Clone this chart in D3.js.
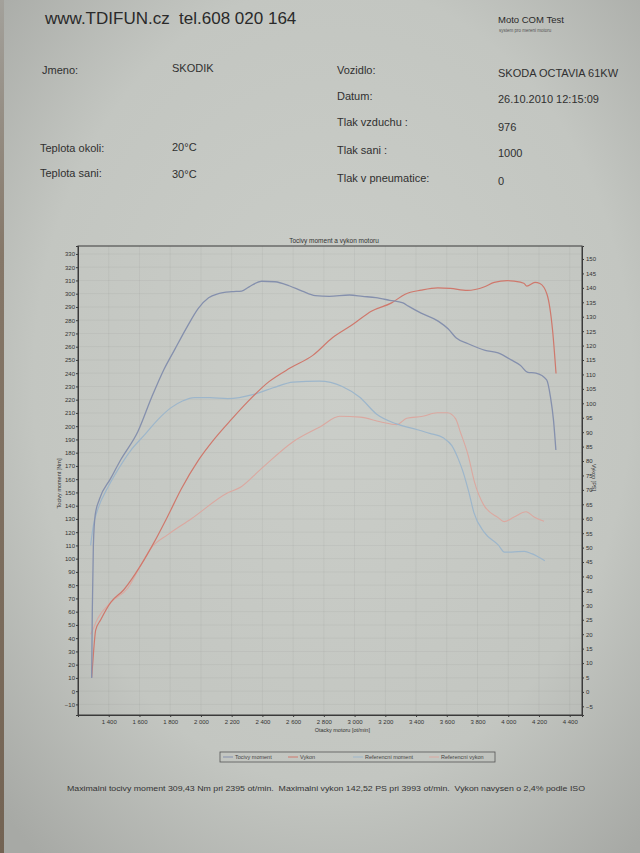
<!DOCTYPE html>
<html>
<head>
<meta charset="utf-8">
<script src="https://cdn.jsdelivr.net/npm/d3@7/dist/d3.min.js"></script>
<style>
  body { margin: 0; background: #c3c6c2; }
  svg { display: block; font-family: "Liberation Sans", Arial, sans-serif; }
</style>
</head>
<body>
<div id="chart"></div>
<script>
// measured torque (Nm, left axis)
var torqueRpm = [1289, 1293, 1300, 1312, 1340, 1410, 1480, 1590, 1680, 1760, 1830, 1910, 1983, 2050, 2114, 2200, 2265, 2311, 2395, 2482, 2574, 2659, 2744, 2836, 2967, 3052, 3138, 3229, 3315, 3350, 3433, 3544, 3610, 3662, 3739, 3850, 3934, 4019, 4078, 4127, 4180, 4250, 4275, 4295, 4310];
var torqueNm  = [10, 60, 110, 133, 145, 160, 175, 196, 222, 243, 258, 275, 289, 297, 300, 301.5, 302, 305, 309.4, 309, 306, 302, 298.6, 298, 299, 298, 297, 295, 293, 290.6, 285.3, 279.3, 273.3, 266.5, 262.2, 257.3, 255.3, 250, 246, 240.7, 240, 235, 222, 204, 182];

// measured power (PS, right axis)
var powerRpm = [1289, 1302, 1315, 1348, 1413, 1498, 1610, 1695, 1787, 1872, 1984, 2084, 2200, 2302, 2443, 2580, 2728, 2856, 2985, 3112, 3241, 3329, 3433, 3541, 3623, 3734, 3846, 3909, 3993, 4038, 4101, 4121, 4174, 4206, 4252, 4289, 4311];
var powerPs  = [5, 14.4, 21.4, 25, 31, 35.4, 44, 51.8, 61.2, 70.3, 80.3, 87.4, 94.5, 100.4, 107.5, 112.2, 116.6, 122.7, 127.2, 132, 134.8, 137.8, 139.2, 140, 139.8, 139.1, 140.4, 141.9, 142.5, 142.3, 141.6, 140.6, 141.9, 141.5, 137.8, 125, 110.3];

// reference torque (Nm, left axis)
var refTorqueRpm = [1282, 1300, 1328, 1400, 1459, 1545, 1630, 1720, 1806, 1880, 1957, 2060, 2175, 2344, 2470, 2600, 2770, 2920, 3034, 3144, 3273, 3404, 3489, 3577, 3633, 3674, 3708, 3744, 3776, 3843, 3936, 3975, 4021, 4106, 4152, 4238];
var refTorqueNm  = [110, 125, 137, 155, 167, 182, 193, 205, 214, 219, 221.6, 221.5, 220.8, 224, 229, 233.3, 234, 230, 221.8, 209, 201.7, 197.5, 194.6, 191.2, 185.3, 175.5, 164.8, 150, 135, 120, 110.2, 105, 105, 105.5, 103.8, 98.5];

// reference power (PS, right axis)
var refPowerRpm = [1282, 1300, 1315, 1413, 1525, 1610, 1675, 1787, 1938, 2175, 2260, 2388, 2600, 2777, 2903, 3036, 3166, 3275, 3339, 3443, 3538, 3604, 3657, 3690, 3739, 3781, 3840, 3934, 3973, 4038, 4116, 4168, 4233];
var refPowerPs  = [20, 22, 24, 31, 36, 44, 49.8, 54.6, 60, 69, 71, 77.1, 86.7, 91.9, 95.5, 95.2, 93.6, 92.6, 94.8, 95.5, 96.7, 96.7, 94.7, 89.8, 82, 72.6, 64.8, 60.4, 59, 60.6, 62.4, 60.6, 59.1];

var rpmTicks = d3.range(1400, 4401, 200);
var torqueTicks = d3.range(-10, 331, 10);
var powerTicks = d3.range(-5, 151, 5);
var legendLabels = ["Tocivy moment", "Vykon", "Referencni moment", "Referencni vykon"];
var seriesColors = ["#8590ad", "#cf786c", "#9db6cb", "#dba8a0"];

// header rows: [text, x, y]
var headerTexts = [
  ["Jmeno:", 42, 74], ["SKODIK", 172, 72],
  ["Vozidlo:", 337, 74], ["SKODA OCTAVIA 61KW", 498, 77],
  ["Datum:", 337, 100], ["26.10.2010 12:15:09", 498, 103],
  ["Tlak vzduchu :", 337, 126], ["976", 498, 131],
  ["Teplota okoli:", 40, 152], ["20°C", 172, 151],
  ["Tlak sani :", 337, 154], ["1000", 498, 157],
  ["Teplota sani:", 40, 177], ["30°C", 172, 178],
  ["Tlak v pneumatice:", 337, 182], ["0", 498, 185]
];

var W = 640, H = 853;
var margin = {top: 246, left: 78},
    width = 504,
    height = 469;

var svg = d3.select("#chart").append("svg")
    .attr("width", W)
    .attr("height", H);

// paper background
var defs = svg.append("defs");
var grad = defs.append("radialGradient").attr("id", "paper")
    .attr("cx", "52%").attr("cy", "45%").attr("r", "72%");
grad.append("stop").attr("offset", "0%").attr("stop-color", "#cbcec9");
grad.append("stop").attr("offset", "65%").attr("stop-color", "#c3c6c1");
grad.append("stop").attr("offset", "100%").attr("stop-color", "#a7a9a5");
svg.append("rect").attr("width", W).attr("height", H).attr("fill", "url(#paper)");

var edge = defs.append("linearGradient").attr("id", "edge")
    .attr("x1", 0).attr("x2", 0).attr("y1", 0).attr("y2", 1);
edge.append("stop").attr("offset", "0%").attr("stop-color", "#a3a19b");
edge.append("stop").attr("offset", "30%").attr("stop-color", "#857768");
edge.append("stop").attr("offset", "100%").attr("stop-color", "#736353");
svg.append("rect").attr("x", 0).attr("y", 0).attr("width", 4).attr("height", H)
    .attr("fill", "url(#edge)");

var ink = "#2a2a2a";

// header
svg.append("text").attr("x", 45).attr("y", 24)
    .attr("font-size", 17).attr("fill", ink)
    .style("white-space", "pre")
    .text("www.TDIFUN.cz  tel.608 020 164");
svg.append("text").attr("x", 498).attr("y", 23)
    .attr("font-size", 9.5).attr("fill", ink)
    .text("Moto COM Test");
svg.append("text").attr("x", 499).attr("y", 32)
    .attr("font-size", 4.5).attr("fill", "#555")
    .text("system pro mereni motoru");

svg.selectAll(".info")
    .data(headerTexts)
  .enter().append("text")
    .attr("class", "info")
    .attr("x", function(d) { return d[1]; })
    .attr("y", function(d) { return d[2]; })
    .attr("font-size", 11)
    .attr("fill", "#303030")
    .text(function(d) { return d[0]; });

// scales
var x = d3.scaleLinear().domain([1200, 4480]).range([0, width]);
var yL = d3.scaleLinear().domain([-18, 336]).range([height, 0]);
var yR = d3.scaleLinear().domain([-8, 154.5]).range([height, 0]);

var g = svg.append("g")
    .attr("transform", "translate(" + margin.left + "," + margin.top + ")");

// faint grid
g.append("g").selectAll("line")
    .data(torqueTicks)
  .enter().append("line")
    .attr("x1", 0).attr("x2", width)
    .attr("y1", function(d) { return yL(d); })
    .attr("y2", function(d) { return yL(d); })
    .attr("stroke", "rgba(0,0,0,0.04)");
g.append("g").selectAll("line")
    .data(rpmTicks)
  .enter().append("line")
    .attr("y1", 0).attr("y2", height)
    .attr("x1", function(d) { return x(d); })
    .attr("x2", function(d) { return x(d); })
    .attr("stroke", "rgba(0,0,0,0.04)");

// frame
g.append("rect")
    .attr("width", width).attr("height", height)
    .attr("fill", "none").attr("stroke", "#3a3a3a").attr("stroke-width", 1);

var formatRpm = function(d) { return d3.format(",")(d).replace(",", " "); };

var xAxis = d3.axisBottom(x).tickValues(rpmTicks).tickFormat(formatRpm)
    .tickSize(2).tickPadding(3);
var yAxisL = d3.axisLeft(yL).tickValues(torqueTicks).tickSize(2).tickPadding(1);
var yAxisR = d3.axisRight(yR).tickValues(powerTicks).tickSize(2).tickPadding(2);

function styleAxis(sel) {
  sel.select(".domain").attr("stroke", "#3a3a3a");
  sel.selectAll(".tick line").attr("stroke", "#3a3a3a");
  sel.selectAll("text").attr("font-size", 6).attr("fill", "#333")
      .attr("font-family", "'Liberation Sans', Arial, sans-serif");
}

g.append("g").attr("class", "x axis")
    .attr("transform", "translate(0," + height + ")")
    .call(xAxis).call(styleAxis);
g.append("g").attr("class", "y axis")
    .call(yAxisL).call(styleAxis);
g.append("g").attr("class", "y2 axis")
    .attr("transform", "translate(" + width + ",0)")
    .call(yAxisR).call(styleAxis);

// chart + axis titles
g.append("text")
    .attr("x", width / 2 + 4).attr("y", -3)
    .attr("text-anchor", "middle").attr("font-size", 6.5).attr("fill", "#333")
    .text("Tocivy moment a vykon motoru");
g.append("text")
    .attr("transform", "translate(-17," + (height / 2 + 3) + ") rotate(-90)")
    .attr("text-anchor", "middle").attr("font-size", 5.5).attr("fill", "#333")
    .text("Tocivy moment [Nm]");
g.append("text")
    .attr("transform", "translate(" + (width + 10) + "," + (height / 2 - 3) + ") rotate(90)")
    .attr("text-anchor", "middle").attr("font-size", 5.5).attr("fill", "#333")
    .text("Vykon [PS]");
g.append("text")
    .attr("x", x(2920)).attr("y", height + 17)
    .attr("text-anchor", "middle").attr("font-size", 5.5).attr("fill", "#333")
    .text("Otacky motoru [ot/min]");

// curves
function drawCurve(rpms, vals, yScale, color, width) {
  var pts = rpms.map(function(r, i) { return [r, vals[i]]; });
  var line = d3.line()
      .x(function(d) { return x(d[0]); })
      .y(function(d) { return yScale(d[1]); })
      .curve(d3.curveMonotoneX);
  g.append("path")
      .datum(pts)
      .attr("d", line)
      .attr("fill", "none")
      .attr("stroke", color)
      .attr("stroke-width", width)
      .attr("stroke-linejoin", "round");
}

drawCurve(refPowerRpm, refPowerPs, yR, seriesColors[3], 1.1);
drawCurve(refTorqueRpm, refTorqueNm, yL, seriesColors[2], 1.2);
drawCurve(powerRpm, powerPs, yR, seriesColors[1], 1.2);
drawCurve(torqueRpm, torqueNm, yL, seriesColors[0], 1.3);

// legend
var legendX = [222, 287, 352, 428];
var lg = svg.append("g").attr("transform", "translate(0,752)");
lg.append("rect")
    .attr("x", 220).attr("y", 0).attr("width", 275).attr("height", 10)
    .attr("fill", "none").attr("stroke", "#555").attr("stroke-width", 0.8);
var items = lg.selectAll(".legend")
    .data(legendLabels)
  .enter().append("g")
    .attr("class", "legend")
    .attr("transform", function(d, i) { return "translate(" + legendX[i] + ",0)"; });
items.append("line")
    .attr("x1", 1).attr("x2", 11).attr("y1", 5).attr("y2", 5)
    .attr("stroke", function(d, i) { return seriesColors[i]; })
    .attr("stroke-width", 1);
items.append("text")
    .attr("x", 13).attr("y", 7)
    .attr("font-size", 5.5).attr("fill", "#444")
    .text(function(d) { return d; });

// footer
svg.append("text")
    .attr("x", 67).attr("y", 791)
    .attr("font-size", 7.8).attr("fill", "#333")
    .attr("textLength", 518).attr("lengthAdjust", "spacingAndGlyphs")
    .style("white-space", "pre")
    .text("Maximalni tocivy moment 309,43 Nm pri 2395 ot/min.  Maximalni vykon 142,52 PS pri 3993 ot/min.  Vykon navysen o 2,4% podle ISO");
</script>
</body>
</html>
